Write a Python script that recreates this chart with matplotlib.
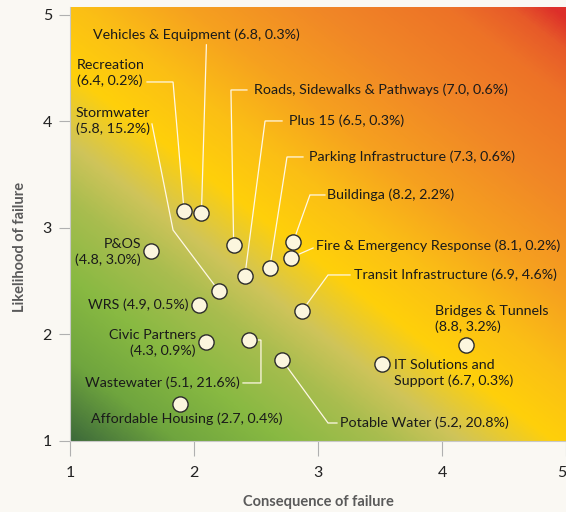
import numpy as np
import matplotlib
matplotlib.use('Agg')
import matplotlib.pyplot as plt
from matplotlib.colors import LinearSegmentedColormap

plt.rcParams['font.family'] = ['Lato', 'DejaVu Sans']

# asset groups: consequence (x) and likelihood (y) of failure
names = ['Vehicles & Equipment', 'Recreation', 'Stormwater', 'Roads, Sidewalks & Pathways',
         'Plus 15', 'Parking Infrastructure', 'Buildinga', 'Fire & Emergency Response',
         'Transit Infrastructure', 'P&OS', 'WRS', 'Civic Partners', 'Wastewater',
         'Potable Water', 'Affordable Housing', 'Bridges & Tunnels', 'IT Solutions and Support']
consequence = [2.06, 1.92, 2.20, 2.32, 2.41, 2.61, 2.80, 2.78, 2.87,
               1.65, 2.04, 2.10, 2.44, 2.71, 1.89, 4.19, 3.52]
likelihood = [3.14, 3.16, 2.41, 2.84, 2.55, 2.62, 2.87, 2.72, 2.22,
              2.78, 2.28, 1.93, 1.95, 1.76, 1.35, 1.90, 1.72]
labels = ['Vehicles & Equipment (6.8, 0.3%)',
          'Recreation\n(6.4, 0.2%)',
          'Stormwater\n(5.8, 15.2%)',
          'Roads, Sidewalks & Pathways (7.0, 0.6%)',
          'Plus 15 (6.5, 0.3%)',
          'Parking Infrastructure (7.3, 0.6%)',
          'Buildinga (8.2, 2.2%)',
          'Fire & Emergency Response (8.1, 0.2%)',
          'Transit Infrastructure (6.9, 4.6%)',
          'P&OS\n(4.8, 3.0%)',
          'WRS (4.9, 0.5%)',
          'Civic Partners\n(4.3, 0.9%)',
          'Wastewater (5.1, 21.6%)',
          'Potable Water (5.2, 20.8%)',
          'Affordable Housing (2.7, 0.4%)',
          'Bridges & Tunnels\n(8.8, 3.2%)',
          'IT Solutions and\nSupport (6.7, 0.3%)']

# label placement (data coords, alignment) and leader waypoints from label towards point
label_pos = [(2.02, 4.81, 'center'), (1.056, 4.455, 'left'), (1.048, 4.005, 'left'),
             (2.484, 4.296, 'left'), (2.766, 4.005, 'left'), (2.927, 3.667, 'left'),
             (3.073, 3.310, 'left'), (2.984, 2.831, 'left'), (3.290, 2.559, 'left'),
             (1.573, 2.775, 'right'), (1.952, 2.277, 'right'), (2.016, 1.920, 'right'),
             (2.371, 1.545, 'right'), (3.177, 1.169, 'left'), (1.169, 1.207, 'left'),
             (3.944, 2.146, 'left'), (3.613, 1.638, 'left')]
leaders = [[(2.10, 4.72)],
           [(1.621, 4.371), (1.831, 4.371)],
           [(1.661, 3.977), (1.831, 2.981)],
           [(2.427, 4.296), (2.298, 4.296)],
           [(2.710, 4.005), (2.573, 4.005)],
           [(2.879, 3.667), (2.750, 3.667)],
           [(3.056, 3.310), (2.935, 3.310)],
           [(2.960, 2.812)],
           [(3.258, 2.559), (3.081, 2.559)],
           [], [], [],
           [(2.395, 1.545), (2.540, 1.545), (2.540, 1.948)],
           [(3.153, 1.169), (3.081, 1.169)],
           [], [], []]

BG = '#faf8f3'
fig = plt.figure(figsize=(5.66, 5.12), dpi=100, facecolor=BG)
ax = fig.add_axes([70 / 566, 71 / 512, 496 / 566, 434 / 512])
ax.set_xlim(1, 5)
ax.set_ylim(1, 5.075)

# diagonal risk gradient
cmap = LinearSegmentedColormap.from_list('risk', [
    (0.0, '#3d6a3a'), (0.1, '#6fa53e'), (0.2, '#88b942'), (0.3, '#a9bd4f'),
    (0.37, '#cfc45a'), (0.46, '#ffd00a'), (0.55, '#fbbf15'), (0.65, '#f6a11f'),
    (0.77, '#f18826'), (0.9, '#ed7227'), (0.96, '#e75a29'), (1.0, '#dd2f2a')])
gx, gy = np.meshgrid(np.linspace(0, 1, 400), np.linspace(0, 1.02, 400))
t = 0.5 * gx + 0.5 * gy + 0.03 * (gy - gx)
ax.imshow(cmap(np.clip(t, 0, 1)), extent=(1, 5, 1, 5.075), origin='lower',
          aspect='auto', zorder=0, interpolation='bilinear')

for i in range(len(names)):
    lx, ly, ha = label_pos[i]
    path = leaders[i] + [(consequence[i], likelihood[i])]
    if leaders[i]:
        ax.plot([p[0] for p in path], [p[1] for p in path], color='#fff8e6',
                lw=0.9, zorder=2, solid_joinstyle='miter')
    ax.text(lx, ly, labels[i], ha=ha, va='center', multialignment=ha,
            fontsize=10.3, color='#1a1a1a', linespacing=1.25, zorder=4)

ax.scatter(consequence, likelihood, s=120, facecolor='#fcf6de', edgecolor='#2b2b2b',
           linewidth=1.0, zorder=3)

ax.set_xticks([1, 2, 3, 4, 5])
ax.set_yticks([1, 2, 3, 4, 5])
ax.tick_params(axis='x', length=11, width=0.8, color='#b0b0b0', pad=7,
               labelsize=11.5, labelcolor='#222222')
ax.tick_params(axis='y', length=8, width=0.8, color='#b0b0b0', pad=5,
               labelsize=11.5, labelcolor='#222222')
ax.get_xticklabels()[-1].set_horizontalalignment('right')
for s in ['top', 'right']:
    ax.spines[s].set_visible(False)
for s in ['left', 'bottom']:
    ax.spines[s].set_color('#c8c8c8')
    ax.spines[s].set_linewidth(0.8)

fig.text(318 / 566, 1 - 502 / 512, 'Consequence of failure', ha='center', va='center',
         fontsize=10.5, fontweight='bold', color='#5a5a5a')
fig.text(20 / 566, 1 - 247 / 512, 'Likelihood of failure', ha='center', va='center',
         rotation=90, fontsize=10.5, fontweight='bold', color='#5a5a5a')

fig.savefig('out.png', dpi=100, facecolor=BG)
